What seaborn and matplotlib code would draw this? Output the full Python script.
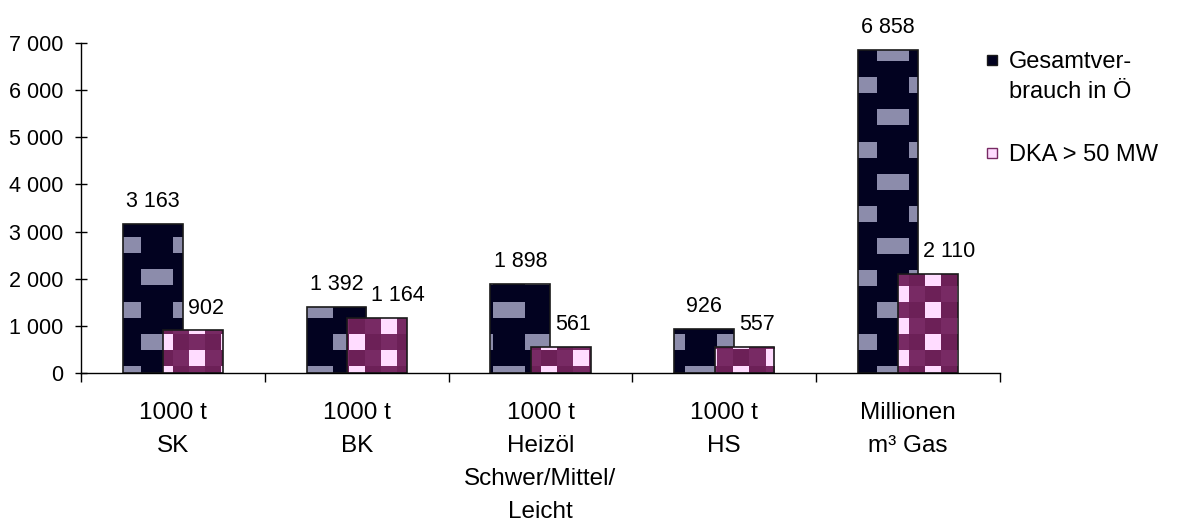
import numpy as np
import pandas as pd
import matplotlib
matplotlib.use("Agg")
import matplotlib.pyplot as plt
import matplotlib.ticker as mticker
from matplotlib.colors import to_rgb
from matplotlib.patches import Rectangle
import seaborn as sns

# data
categories = ["1000 t\nSK", "1000 t\nBK", "1000 t\nHeizöl\nSchwer/Mittel/\nLeicht",
              "1000 t\nHS", "Millionen\nm³ Gas"]
gesamt = [3163, 1392, 1898, 926, 6858]
dka = [902, 1164, 561, 557, 2110]
series_names = ["Gesamtver-\nbrauch in Ö", "DKA > 50 MW"]

df = pd.DataFrame({
    "kategorie": categories * 2,
    "wert": gesamt + dka,
    "serie": [series_names[0]] * len(categories) + [series_names[1]] * len(categories),
})

W, H = 1180, 523
NAVY, LAVENDER = "#020220", "#8c8cab"
PURPLE, PURPLE2, PINK = "#782a64", "#6c2057", "#ffdcff"
FS = 15.5      # value + y tick labels
FS_CAT = 17.5  # category labels
FS_LEG = 17

sns.set_theme(style="white")
plt.rcParams["font.family"] = ["Liberation Sans", "DejaVu Sans"]
plt.rcParams["text.color"] = "black"
plt.rcParams["xtick.labelcolor"] = "black"
plt.rcParams["ytick.labelcolor"] = "black"


def fmt(v):
    return f"{v:,.0f}".replace(",", " ")


fig = plt.figure(figsize=(W / 100, H / 100), dpi=100)
ax = fig.add_axes([81 / W, 150 / H, 919 / W, 330 / H])

sns.barplot(data=df, x="kategorie", y="wert", hue="serie",
            palette=[NAVY, PURPLE], width=0.44, saturation=1,
            errorbar=None, legend=False, ax=ax,
            edgecolor="#1a1a1a", linewidth=1.2)

# widen bars so the two series overlap like in the original
bar_w = 0.325
for cont in ax.containers:
    for bar in cont:
        cx = bar.get_x() + bar.get_width() / 2
        bar.set_x(cx - bar_w / 2)
        bar.set_width(bar_w)

ax.set_xlim(-0.5, 4.5)
ax.set_ylim(0, 7000)

# pixel textures (bricks / checker) like the old office fill patterns
yy, xx = np.mgrid[0:H, 0:W]
row = (yy - 238) // 32
light_d = ((yy - 238) % 32 < 16) & (((row + (xx - 45) // 32) % 2) == 0)
tex_dark = np.where(light_d[..., None], to_rgb(LAVENDER), to_rgb(NAVY))

prow = (yy - 14) // 16
pcol = (xx - 29) // 16
light_p = (pcol % 4) == 2 * (prow % 2)
base_p = np.where((((prow + pcol) % 2) == 0)[..., None], to_rgb(PURPLE), to_rgb(PURPLE2))
tex_pink = np.where(light_p[..., None], to_rgb(PINK), base_p)

inv = ax.transData.inverted()
x0, y0 = inv.transform((0, 0))
x1, y1 = inv.transform((W, H))

dark_bars, pink_bars = ax.containers
for z, bars, tex in [(2.0, dark_bars, tex_dark), (2.2, pink_bars, tex_pink)]:
    for bar in bars:
        im = ax.imshow(tex, extent=(x0, x1, y0, y1), origin="upper",
                       interpolation="nearest", aspect="auto", zorder=z)
        im.set_clip_path(bar)
        bar.set_facecolor("none")
        bar.set_zorder(z + 0.1)

ax.set_xlim(-0.5, 4.5)
ax.set_ylim(0, 7000)

# value labels
for bar, v in zip(dark_bars, gesamt):
    ax.annotate(fmt(v), (bar.get_x() + bar.get_width() / 2, v), xytext=(0, 12.2),
                textcoords="offset points", ha="center", va="baseline", fontsize=FS)
for dbar, v in zip(dark_bars, dka):
    ax.annotate(fmt(v), (dbar.get_x() + dbar.get_width(), v), xytext=(3.6, 12.2),
                textcoords="offset points", ha="left", va="baseline", fontsize=FS)

# axes styling
sns.despine(ax=ax)
for s in ["left", "bottom"]:
    ax.spines[s].set_color("black")
    ax.spines[s].set_linewidth(1)

ax.set_xlabel("")
ax.set_ylabel("")
ax.yaxis.set_major_locator(mticker.MultipleLocator(1000))
ax.yaxis.set_major_formatter(mticker.FuncFormatter(lambda v, p: fmt(v)))
ax.tick_params(axis="y", direction="inout", length=8, width=1, color="black",
               pad=9, labelsize=FS, left=True)
ax.xaxis.set_minor_locator(mticker.FixedLocator(np.arange(-0.5, 5, 1)))
ax.tick_params(axis="x", which="major", length=0, pad=21, labelsize=FS_CAT)
ax.tick_params(axis="x", which="minor", direction="out", length=6.5, width=1,
               color="black", bottom=True)
for t in ax.get_xticklabels():
    t.set_linespacing(1.64)

# legend drawn by hand to match the original placement
fig.add_artist(Rectangle((987 / W, (H - 65) / H), 10 / W, 10 / H, transform=fig.transFigure,
                         facecolor=NAVY, edgecolor="#1a1a1a", linewidth=1))
fig.add_artist(Rectangle((987 / W, (H - 158) / H), 10 / W, 10 / H, transform=fig.transFigure,
                         facecolor=PINK, edgecolor=PURPLE, linewidth=1))
fig.text(1009 / W, (H - 98) / H, series_names[0], fontsize=FS_LEG, va="baseline",
         ha="left", linespacing=1.45)
fig.text(1009 / W, (H - 161) / H, series_names[1], fontsize=FS_LEG, va="baseline", ha="left")

fig.savefig("out.png", dpi=100)
plt.close()
